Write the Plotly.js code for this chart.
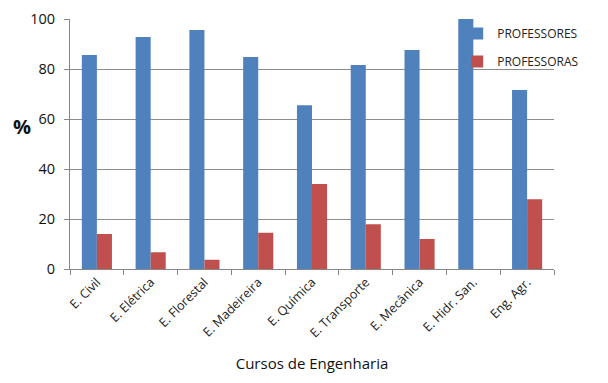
<!DOCTYPE html>
<html>
<head>
<meta charset="utf-8">
<script src="https://cdn.plot.ly/plotly-3.0.1.min.js"></script>
<style>html,body{margin:0;padding:0;background:#fff;}#chart{width:608px;height:383px;}</style>
</head>
<body>
<div id="chart"></div>
<script>
const categories = ["E. Civil","E. Elétrica","E. Florestal","E. Madeireira","E. Química","E. Transporte","E. Mecânica","E. Hidr. San.","Eng. Agr."];
const professores = [85.6, 92.8, 95.6, 84.8, 65.5, 81.6, 87.6, 100, 71.6];
const professoras = [14, 6.7, 3.7, 14.5, 34, 17.9, 12, 0, 27.9];
const yTicks = [0, 20, 40, 60, 80, 100];

const font = "'Open Sans', 'Noto Sans', sans-serif";
const data = [
  {type:"bar", name:"PROFESSORES", legendgroup:"a", x:categories, y:professores, marker:{color:"#4F81BD"}},
  {type:"bar", name:"PROFESSORAS", legendgroup:"b", x:categories, y:professoras, marker:{color:"#C0504D"}}
];
const layout = {
  width:608, height:383,
  margin:{l:70, r:54, t:19, b:114},
  paper_bgcolor:"#fff", plot_bgcolor:"#fff",
  barmode:"group", bargap:0.44, bargroupgap:0,
  showlegend:true,
  legend:{x:0.80, y:1.0, xanchor:"left", yanchor:"top", bgcolor:"rgba(255,255,255,0)",
    font:{family:font, size:12, color:"#222"}, itemwidth:30, tracegroupgap:9},
  shapes:[
    {type:"rect", xref:"paper", yref:"paper", x0:0.848, x1:1.0, y0:0.78, y1:0.985,
     fillcolor:"#fff", line:{width:0}, layer:"below"}
  ],
  xaxis:{
    type:"category", tickangle:-45, tickson:"boundaries", ticks:"outside", ticklen:5,
    tickcolor:"#868686", showline:true, linecolor:"#868686", linewidth:1,
    tickfont:{family:font, size:12.5, color:"#222"},
    title:{text:"Cursos de Engenharia", font:{family:font, size:15, color:"#111"}, standoff:18},
    automargin:false
  },
  yaxis:{
    range:[0,100], tickvals:yTicks, ticks:"outside", ticklen:5, tickcolor:"#868686",
    showline:true, linecolor:"#868686", linewidth:1,
    showgrid:true, gridcolor:"#8c8c8c", gridwidth:1, zeroline:false,
    tickfont:{family:font, size:14.5, color:"#111"}, ticklabelstandoff:6,
    automargin:false
  },
  annotations:[
    {text:"<b>%</b>", xref:"paper", yref:"paper", x:-0.1, y:0.57, xanchor:"center", yanchor:"middle",
     showarrow:false, font:{family:font, size:20, color:"#111"}}
  ]
};
Plotly.newPlot("chart", data, layout, {displayModeBar:false, staticPlot:true});
</script>
</body>
</html>
